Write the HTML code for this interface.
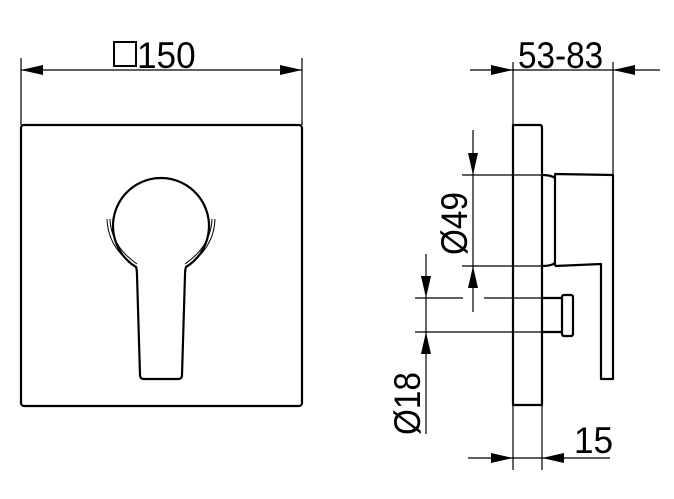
<!DOCTYPE html>
<html><head><style>html,body{margin:0;padding:0;background:#fff}svg{display:block}</style></head>
<body>
<svg width="674" height="499" viewBox="0 0 674 499" xmlns="http://www.w3.org/2000/svg">
<g fill="none" stroke="#000" stroke-width="1.2">
<line x1="21" y1="58" x2="21" y2="125"/><line x1="302" y1="58" x2="302" y2="125"/>
<line x1="21" y1="70" x2="302" y2="70"/>
<line x1="513" y1="62" x2="513" y2="125"/><line x1="613" y1="62" x2="613" y2="174"/>
<line x1="470" y1="70" x2="660" y2="70"/>
<line x1="513" y1="405" x2="513" y2="470"/><line x1="542" y1="405" x2="542" y2="470"/>
<line x1="468" y1="458" x2="610" y2="458"/>
<line x1="462" y1="175" x2="542" y2="175"/><line x1="462" y1="266" x2="542" y2="266"/>
<line x1="473" y1="130" x2="473" y2="312"/>
<line x1="415" y1="298" x2="463" y2="298"/><line x1="484" y1="298" x2="542" y2="298"/>
<line x1="415" y1="332" x2="542" y2="332"/>
<line x1="426" y1="254" x2="426" y2="434"/>
</g>
<g fill="#000">
<polygon points="21,70 43,65 43,75"/><polygon points="302,70 280,65 280,75"/>
<polygon points="513,70 491,65 491,75"/><polygon points="613,70 635,65 635,75"/>
<polygon points="513,458 491,453 491,463"/><polygon points="542,458 564,453 564,463"/>
<polygon points="473,175 468,153 478,153"/><polygon points="473,266 468,288 478,288"/>
<polygon points="426,298 421,276 431,276"/><polygon points="426,332 421,354 431,354"/>
</g>
<g fill="none" stroke="#000" stroke-width="2.2" stroke-linejoin="round">
<rect x="21" y="125" width="281" height="281" rx="3"/>
<path d="M136,267 A48,48 0 1 1 186,267 Q185,270 185,275 L182,375 Q182,379 178,379 L144,379 Q140,379 140,375 L137,275 Q137,270 136,267 Z"/>
<path d="M513,405 L513,125 L540,125 Q542,125 542,128 L542,405 Z"/>
<path d="M555,266 L555,174 L613,175 L613,379 L601,379 L601,264 L555,266"/>
<path d="M542,175 Q551,175 555,178 M542,266 Q551,266 555,263"/>
<path d="M542,298 L563,298 M542,332 L563,332"/>
<rect x="562" y="295" width="11" height="41" rx="2"/>
</g>
<g fill="none" stroke="#000" stroke-width="1">
<path d="M107,219 Q108,248 135,266"/><path d="M110,219 Q111,246 137,264"/>
<path d="M215,219 Q214,248 187,266"/><path d="M212,219 Q211,246 185,264"/>
</g>
<g font-family="Liberation Sans, sans-serif" font-size="37" fill="#000">
<rect x="114" y="42" width="22" height="24" fill="none" stroke="#000" stroke-width="2"/>
<text transform="translate(137,68) scale(0.95,1)">150</text>
<text transform="translate(518,68) scale(0.9,1)">53-83</text>
<text transform="translate(574,453) scale(0.95,1)">15</text>
<text transform="translate(467,255) rotate(-90) scale(0.9,1)">Ø49</text>
<text transform="translate(420,435) rotate(-90) scale(0.9,1)">Ø18</text>
</g>
</svg>
</body></html>
